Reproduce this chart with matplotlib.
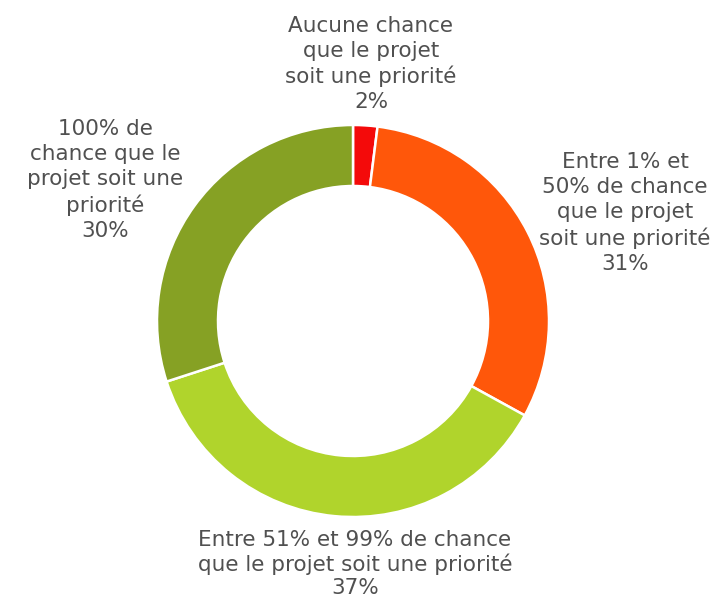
import matplotlib
matplotlib.use("Agg")
import matplotlib.pyplot as plt

categories = [
    "Aucune chance\nque le projet\nsoit une priorité",
    "Entre 1% et\n50% de chance\nque le projet\nsoit une priorité",
    "Entre 51% et 99% de chance\nque le projet soit une priorité",
    "100% de\nchance que le\nprojet soit une\npriorité",
]
values = [2, 31, 37, 30]
colors = ["#F40A0A", "#FF570A", "#B0D42C", "#86A124"]

W, H = 717, 599
fig = plt.figure(figsize=(W / 100, H / 100), dpi=100)
ax = fig.add_axes([0, 0, 1, 1])

cx, cy = 353, H - 321
R = 196
ax.pie(values, colors=colors, startangle=90, counterclock=False,
       center=(cx, cy), radius=R, frame=True,
       wedgeprops=dict(width=61, edgecolor="white", linewidth=1.8))
ax.set_xlim(0, W)
ax.set_ylim(0, H)
ax.set_aspect("equal")
ax.axis("off")

label_pos = [(371, H - 64), (625, H - 213), (355, H - 564), (105, H - 180)]
spacing = [1.3, 1.3, 1.2, 1.3]
for cat, v, (x, y), ls in zip(categories, values, label_pos, spacing):
    ax.text(x, y, f"{cat}\n{v}%", ha="center", va="center",
            fontsize=15.5, color="#505050", linespacing=ls,
            family="DejaVu Sans")

fig.savefig("out.png", dpi=100)
